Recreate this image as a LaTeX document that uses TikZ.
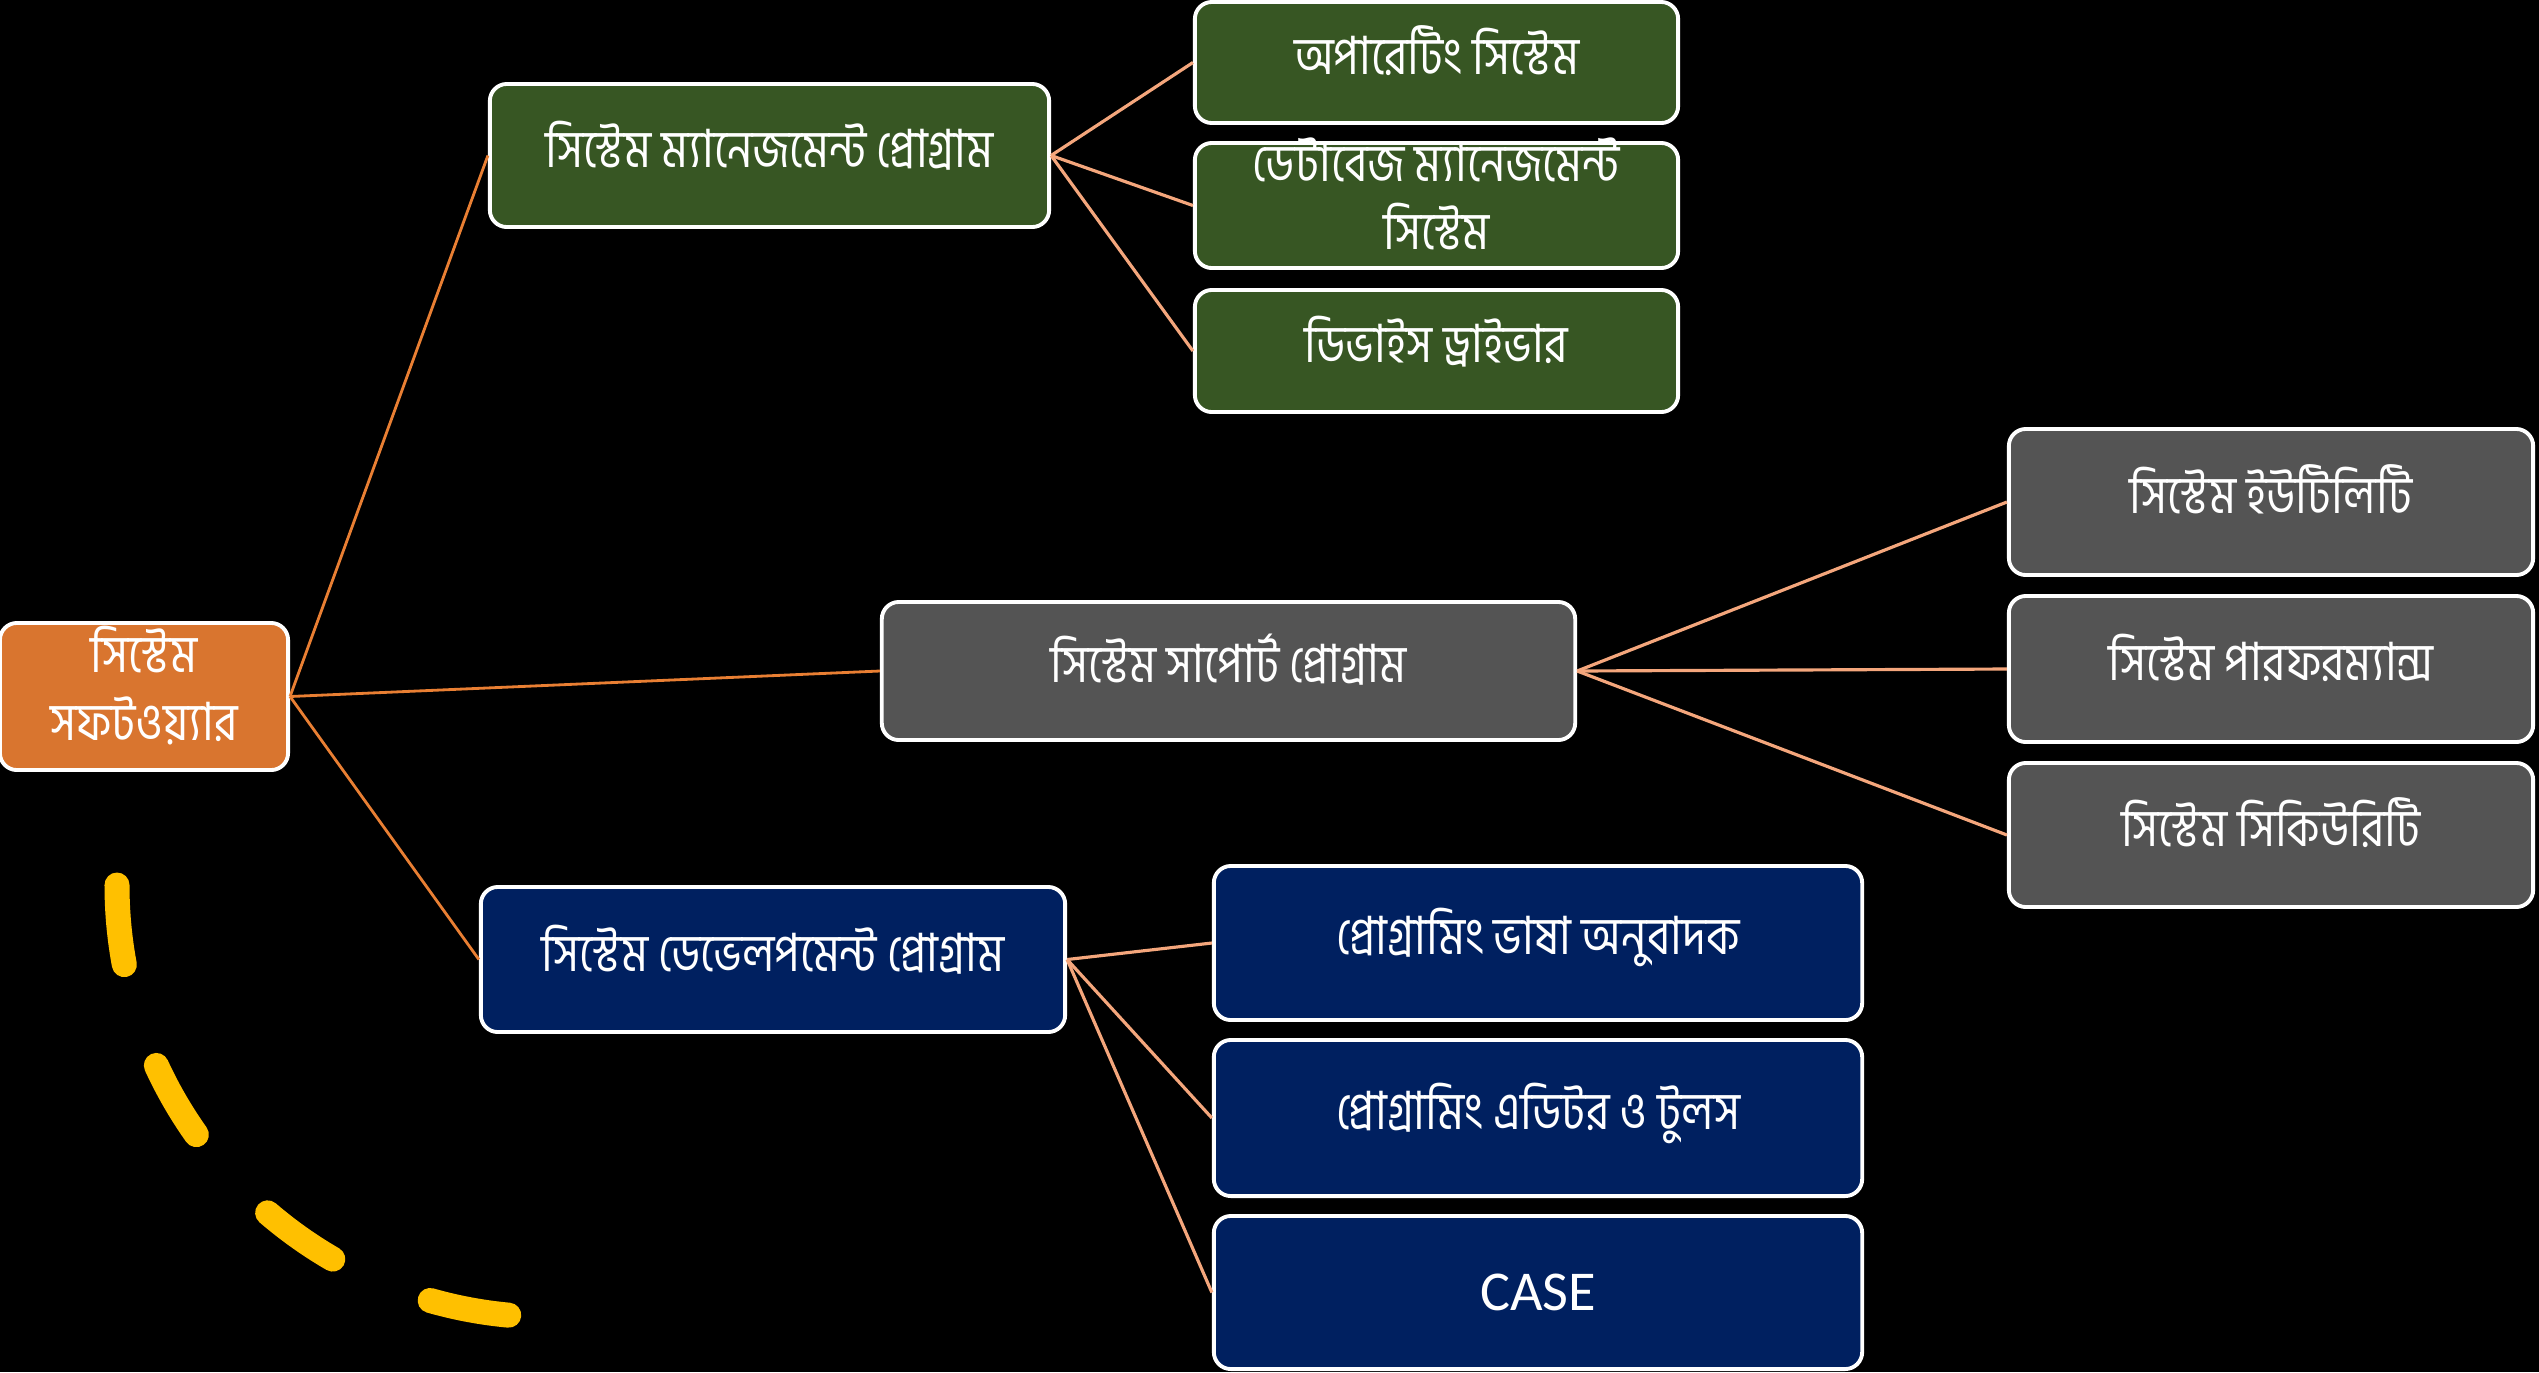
\documentclass[tikz,border=0pt]{standalone}
\usepackage{fontspec}
\newfontfamily\bn[Script=Bengali, FakeStretch=0.85]{Hind Siliguri}
\newfontfamily\lat{Carlito}
\definecolor{rootfill}{HTML}{D9752F}
\definecolor{mgmtfill}{HTML}{375623}
\definecolor{supfill}{HTML}{545454}
\definecolor{devfill}{HTML}{002060}
\definecolor{rootwire}{HTML}{E97F33}
\definecolor{leafwire}{HTML}{F4A67C}
\definecolor{arcgold}{HTML}{FFC000}
\tikzset{
  card/.style={draw=white, line width=1.1pt, rounded corners=0.17cm,
    text=white, align=center, inner sep=0pt,
    font=\bn\fontsize{15pt}{19.3pt}\selectfont},
  % fixed text boxes keep every baseline at the same spot in its card
  oneline/.style={text height=0.5cm, text depth=0.27cm},
  twoline/.style={text height=0.95cm, text depth=0.08cm},
  rootcard/.style={card, fill=rootfill},
  mgmtcard/.style={card, fill=mgmtfill},
  supcard/.style={card, fill=supfill},
  devcard/.style={card, fill=devfill},
  rootlink/.style={draw=rootwire, line width=0.8pt},
  leaflink/.style={draw=leafwire, line width=0.9pt},
  goldarc/.style={draw=arcgold, line width=0.25cm, line cap=round,
    dash pattern=on 0.8cm off 1.06cm}
}
\begin{document}
\begin{tikzpicture}[x=0.01cm, y=-0.01cm]
  \useasboundingbox (0,0) rectangle (2539,1372);
  \fill[black] (0,0) rectangle (2539,1372);

  % root
  \node[rootcard, twoline, minimum width=2.88cm, minimum height=1.47cm] (root) at (144,696.5)
    {সিস্টেম\\সফটওয়্যার};

  % system management branch
  \node[mgmtcard, oneline, minimum width=5.59cm, minimum height=1.43cm] (smp) at (769.5,155.5)
    {সিস্টেম ম্যানেজমেন্ট প্রোগ্রাম};
  \node[mgmtcard, oneline, minimum width=4.83cm, minimum height=1.21cm] (os) at (1436.5,62.5)
    {অপারেটিং সিস্টেম};
  \node[mgmtcard, twoline, minimum width=4.83cm, minimum height=1.25cm] (dbms) at (1436.5,205.5)
    {ডেটাবেজ ম্যানেজমেন্ট\\সিস্টেম};
  \node[mgmtcard, oneline, minimum width=4.83cm, minimum height=1.22cm] (dd) at (1436.5,351)
    {ডিভাইস ড্রাইভার};

  % system support branch
  \node[supcard, oneline, minimum width=6.93cm, minimum height=1.38cm] (ssp) at (1228.5,671)
    {সিস্টেম সাপোর্ট প্রোগ্রাম};
  \node[supcard, oneline, minimum width=5.24cm, minimum height=1.46cm] (util) at (2271,502)
    {সিস্টেম ইউটিলিটি};
  \node[supcard, oneline, minimum width=5.24cm, minimum height=1.46cm] (perf) at (2271,669)
    {সিস্টেম পারফরম্যান্স};
  \node[supcard, oneline, minimum width=5.24cm, minimum height=1.44cm] (sec) at (2271,835)
    {সিস্টেম সিকিউরিটি};

  % system development branch
  \node[devcard, oneline, minimum width=5.84cm, minimum height=1.45cm] (sdp) at (773,959.5)
    {সিস্টেম ডেভেলপমেন্ট প্রোগ্রাম};
  \node[devcard, oneline, minimum width=6.48cm, minimum height=1.54cm] (lang) at (1538,943)
    {প্রোগ্রামিং ভাষা অনুবাদক};
  \node[devcard, oneline, minimum width=6.48cm, minimum height=1.56cm] (edit) at (1538,1118)
    {প্রোগ্রামিং এডিটর ও টুলস};
  \node[devcard, minimum width=6.48cm, minimum height=1.53cm] (casebox) at (1538,1292.5)
    {\lat\fontsize{16pt}{19.3pt}\selectfont CASE};

  % links from the root
  \draw[rootlink] (root.east) -- (smp.west);
  \draw[rootlink] (root.east) -- (ssp.west);
  \draw[rootlink] (root.east) -- (sdp.west);

  % links to the leaves
  \foreach \leaf in {os,dbms,dd} \draw[leaflink] (smp.east) -- (\leaf.west);
  \foreach \leaf in {util,perf,sec} \draw[leaflink] (ssp.east) -- (\leaf.west);
  \foreach \leaf in {lang,edit,casebox} \draw[leaflink] (sdp.east) -- (\leaf.west);

  % dashed gold quarter arc
  \draw[goldarc] (117,885) arc[start angle=180, end angle=90, radius=432];
\end{tikzpicture}
\end{document}
